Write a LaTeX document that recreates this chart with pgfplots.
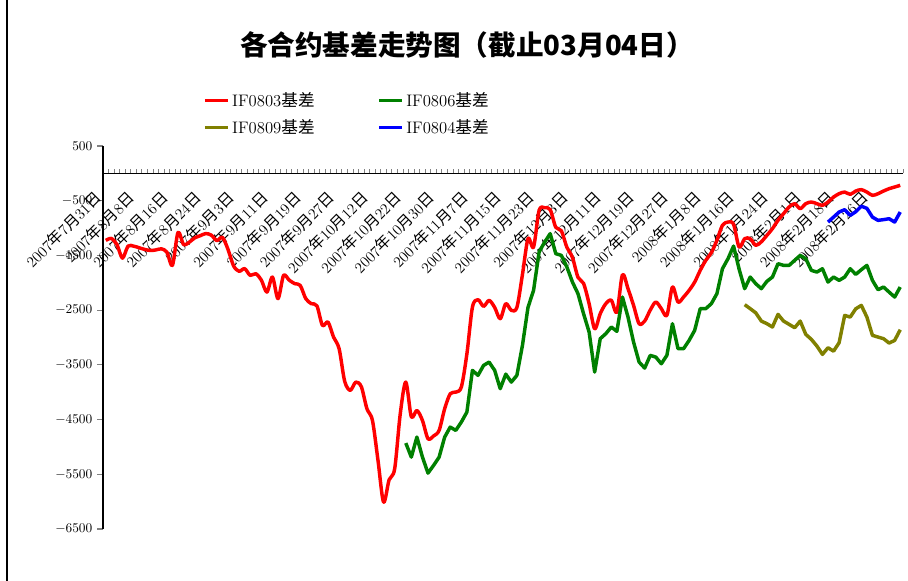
\documentclass[border=0pt]{standalone}
\usepackage{fontspec}
\usepackage{pgfplots}
\pgfplotsset{compat=1.18}
\newfontfamily\cjk{Noto Sans CJK SC}
\newcommand\dt[3]{#1{\cjk 年}#2{\cjk 月}#3{\cjk 日}}
\definecolor{cred}{RGB}{255,0,0}
\definecolor{cgreen}{RGB}{0,128,0}
\definecolor{colive}{RGB}{128,128,0}
\definecolor{cblue}{RGB}{0,0,255}

\pgfplotstableread{
i v
0 -1225
1 -1190
2 -1300
3 -1550
4 -1330
5 -1330
6 -1360
7 -1390
8 -1410
9 -1400
10 -1380
11 -1440
12 -1680
13 -1080
14 -1300
15 -1260
16 -1180
17 -1140
18 -1100
19 -1130
20 -1230
21 -1170
22 -1390
23 -1690
24 -1790
25 -1742
26 -1865
27 -1834
28 -1950
29 -2170
30 -1896
31 -2290
32 -1865
33 -1950
34 -2016
35 -2048
36 -2290
37 -2382
38 -2420
39 -2779
40 -2718
41 -2993
42 -3205
43 -3800
44 -3967
45 -3815
46 -3900
47 -4300
48 -4516
49 -5247
50 -6009
51 -5600
52 -5400
53 -4400
54 -3815
55 -4450
56 -4333
57 -4516
58 -4851
59 -4800
60 -4698
61 -4302
62 -4028
63 -3998
64 -3906
65 -3300
66 -2444
67 -2309
68 -2431
69 -2322
70 -2450
71 -2657
72 -2382
73 -2504
74 -2450
75 -1850
76 -1194
77 -1346
78 -676
79 -629
80 -665
81 -987
82 -1048
83 -1353
84 -1536
85 -1901
86 -2011
87 -2382
88 -2840
89 -2565
90 -2382
91 -2320
92 -2535
93 -1852
94 -2108
95 -2413
96 -2748
97 -2700
98 -2500
99 -2352
100 -2473
101 -2596
102 -2077
103 -2352
104 -2261
105 -2139
106 -1987
107 -1773
108 -1590
109 -1450
110 -1225
111 -950
112 -890
113 -930
114 -1347
115 -1194
116 -1194
117 -1316
118 -1250
119 -1133
120 -1011
121 -859
122 -737
123 -615
124 -554
125 -645
126 -554
127 -524
128 -554
129 -585
130 -524
131 -433
132 -372
133 -342
134 -384
135 -323
136 -298
137 -342
138 -402
139 -372
140 -323
141 -280
142 -250
143 -219
}\ifoeightthree

\pgfplotstableread{
i v
54 -4930
55 -5186
56 -4820
57 -5186
58 -5479
59 -5338
60 -5186
61 -4820
62 -4638
63 -4698
64 -4546
65 -4363
66 -3601
67 -3692
68 -3510
69 -3449
70 -3601
71 -3936
72 -3670
73 -3815
74 -3692
75 -3144
76 -2449
77 -2139
78 -1438
79 -1255
80 -1102
81 -1468
82 -1499
83 -1712
84 -1987
85 -2200
86 -2565
87 -2900
88 -3632
89 -3022
90 -2931
91 -2809
92 -2888
93 -2261
94 -2627
95 -3084
96 -3449
97 -3559
98 -3327
99 -3358
100 -3480
101 -3327
102 -2748
103 -3205
104 -3205
105 -3053
106 -2870
107 -2473
108 -2473
109 -2382
110 -2200
111 -1743
112 -1560
113 -1329
114 -1750
115 -2108
116 -1895
117 -2017
118 -2108
119 -1974
120 -1895
121 -1651
122 -1682
123 -1682
124 -1590
125 -1499
126 -1560
127 -1773
128 -1804
129 -1743
130 -1987
131 -1895
132 -1956
133 -1895
134 -1743
135 -1846
136 -1761
137 -1682
138 -1956
139 -2126
140 -2078
141 -2170
142 -2261
143 -2078
}\ifoeightsix

\pgfplotstableread{
i v
115 -2400
116 -2473
117 -2550
118 -2700
119 -2748
120 -2809
121 -2577
122 -2700
123 -2760
124 -2821
125 -2700
126 -2943
127 -3034
128 -3156
129 -3309
130 -3187
131 -3250
132 -3096
133 -2596
134 -2627
135 -2475
136 -2413
137 -2627
138 -2961
139 -2992
140 -3022
141 -3102
142 -3053
143 -2858
}\ifoeightnine

\pgfplotstableread{
i v
130 -890
131 -800
132 -707
133 -664
134 -768
135 -700
136 -600
137 -640
138 -800
139 -859
140 -846
141 -829
142 -890
143 -707
}\ifoeightfour

\begin{document}
\begin{tikzpicture}[x=0.75pt,y=0.75pt]
\useasboundingbox (0,0) rectangle (908,581);
\draw[line width=1.6pt] (7,0) -- (7,581);
\node[font=\cjk\bfseries\fontsize{20.7}{24}\selectfont] at (467,536) {各合约基差走势图（截止03月04日）};
\begin{axis}[
  at={(77.25pt,39pt)}, anchor=south west,
  scale only axis, width=600pt, height=287.25pt,
  xmin=-0.5, xmax=143.5, ymin=-6500, ymax=500,
  axis x line*=middle, axis y line*=left,
  axis line style={line width=0.9pt},
  ytick={-6500,-5500,...,500},
  /pgf/number format/1000 sep={},
  xtick={0,6,...,138},
  xticklabels={{\dt{2007}{7}{31}},{\dt{2007}{8}{8}},{\dt{2007}{8}{16}},{\dt{2007}{8}{24}},
    {\dt{2007}{9}{3}},{\dt{2007}{9}{11}},{\dt{2007}{9}{19}},{\dt{2007}{9}{27}},
    {\dt{2007}{10}{12}},{\dt{2007}{10}{22}},{\dt{2007}{10}{30}},{\dt{2007}{11}{7}},
    {\dt{2007}{11}{15}},{\dt{2007}{11}{23}},{\dt{2007}{12}{3}},{\dt{2007}{12}{11}},
    {\dt{2007}{12}{19}},{\dt{2007}{12}{27}},{\dt{2008}{1}{8}},{\dt{2008}{1}{16}},
    {\dt{2008}{1}{24}},{\dt{2008}{2}{1}},{\dt{2008}{2}{18}},{\dt{2008}{2}{26}}},
  minor xtick={-0.5,0.5,...,143.5},
  tick align=outside,
  major tick length=4.5pt, minor tick length=3pt,
  major x tick style={draw=none},
  minor x tick style={yshift=3pt, line width=0.7pt},
  ytick style={line width=0.8pt},
  xticklabel shift=11.5pt,
  xticklabel style={font=\fontsize{11.5}{13}\selectfont, anchor=east, inner sep=0pt,
    rotate=45, xshift=-3.9pt, yshift=3.9pt},
  yticklabel style={font=\fontsize{10}{12}\selectfont},
  no markers,
  legend columns=2,
  legend style={at={(0.12,1.155)}, anchor=north west, draw=none, fill=none,
    font=\fontsize{12.5}{15}\selectfont,
    /tikz/every even column/.append style={column sep=45pt},
    row sep=4.5pt},
  legend cell align=left,
  every axis plot/.append style={line width=2.6pt, line join=round},
]
\addplot[cred, smooth] table[x=i,y=v] {\ifoeightthree};
\addlegendentry{IF0803{\cjk 基差}}
\addplot[cgreen] table[x=i,y=v] {\ifoeightsix};
\addlegendentry{IF0806{\cjk 基差}}
\addplot[colive] table[x=i,y=v] {\ifoeightnine};
\addlegendentry{IF0809{\cjk 基差}}
\addplot[cblue] table[x=i,y=v] {\ifoeightfour};
\addlegendentry{IF0804{\cjk 基差}}
\end{axis}
\end{tikzpicture}
\end{document}
